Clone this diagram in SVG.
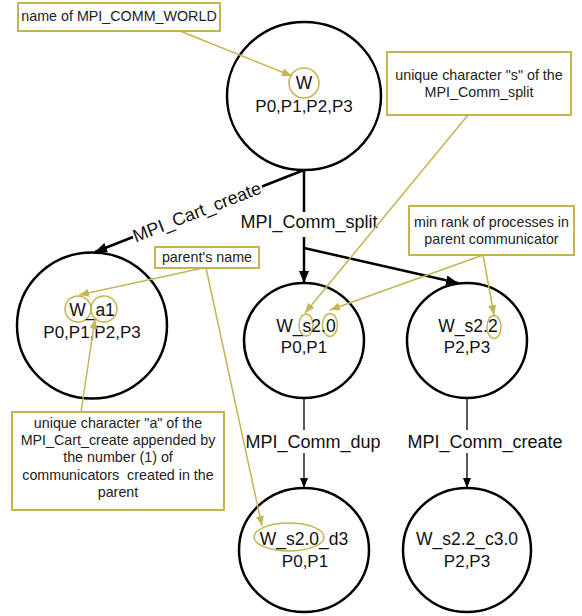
<svg xmlns="http://www.w3.org/2000/svg" width="582" height="616" viewBox="0 0 582 616">
<style>
.node{fill:#fff;stroke:#000;stroke-width:2.5}
.nt{font-family:"Liberation Sans",Arial,sans-serif;font-size:17.5px;fill:#111;text-anchor:middle}
.pt{font-family:"Liberation Sans",Arial,sans-serif;font-size:17px;fill:#111;text-anchor:middle}
.lbl{font-family:"Liberation Sans",Arial,sans-serif;font-size:18px;fill:#111;text-anchor:middle}
.at{font-family:"Liberation Sans",Arial,sans-serif;font-size:14.3px;fill:#222;text-anchor:middle}
.box{fill:#fff;stroke:#c4b552;stroke-width:2}
.hl{fill:none;stroke:#c4b552;stroke-width:1.5}
.ol{fill:none;stroke:#c4b552;stroke-width:1.5}
.thick{fill:none;stroke:#000;stroke-width:2.5}
.thin{fill:none;stroke:#000;stroke-width:1.3}
</style>
<defs>
<marker id="ab" viewBox="0 0 12 10" refX="12" refY="5" markerWidth="12" markerHeight="10" orient="auto" markerUnits="userSpaceOnUse"><path d="M0,0 L12,5 L0,10 z" fill="#000"/></marker>
<marker id="as" viewBox="0 0 10 8" refX="10" refY="4" markerWidth="10" markerHeight="8" orient="auto" markerUnits="userSpaceOnUse"><path d="M0,0 L10,4 L0,8 z" fill="#000"/></marker>
<marker id="ao" viewBox="0 0 10 8" refX="10" refY="4" markerWidth="10" markerHeight="8" orient="auto" markerUnits="userSpaceOnUse"><path d="M0,0 L10,4 L0,8 z" fill="#c4b552"/></marker>
</defs>
<rect width="582" height="616" fill="#fff"/>

<g id="connectors">
  <line class="thick" x1="304" y1="170" x2="262" y2="186.5"/>
  <line class="thick" x1="133" y1="237" x2="95" y2="252" marker-end="url(#ab)"/>
  <text class="lbl" transform="translate(197,212) rotate(-21.4)" x="0" y="6">MPI_Cart_create</text>
  <line class="thick" x1="304" y1="170" x2="304" y2="212"/>
  <text class="lbl" x="309" y="228">MPI_Comm_split</text>
  <line class="thick" x1="304" y1="237" x2="304" y2="283" marker-end="url(#ab)"/>
  <line class="thick" x1="304" y1="248" x2="458" y2="283" marker-end="url(#ab)"/>
  <line class="thin" x1="304" y1="398" x2="304" y2="430"/>
  <text class="lbl" x="313" y="448">MPI_Comm_dup</text>
  <line class="thin" x1="304" y1="453" x2="304" y2="488" marker-end="url(#as)"/>
  <line class="thin" x1="467" y1="398" x2="467" y2="430"/>
  <text class="lbl" x="485" y="448">MPI_Comm_create</text>
  <line class="thin" x1="467" y1="453" x2="467" y2="488" marker-end="url(#as)"/>
</g>

<g id="node-W">
  <ellipse class="node" cx="304" cy="96" rx="77" ry="74"/>
  <circle class="hl" cx="304" cy="83" r="15"/>
  <text class="nt" x="304" y="89">W</text>
  <text class="pt" x="304" y="112">P0,P1,P2,P3</text>
</g>
<g id="node-W_a1">
  <ellipse class="node" cx="92" cy="325.5" rx="75" ry="73"/>
  <circle class="hl" cx="78" cy="309" r="13"/>
  <circle class="hl" cx="104" cy="309" r="13"/>
  <text class="nt" x="92" y="316">W_a1</text>
  <text class="pt" x="92" y="338">P0,P1,P2,P3</text>
</g>
<g id="node-W_s2.0">
  <ellipse class="node" cx="304" cy="340.5" rx="60" ry="57.5"/>
  <ellipse class="hl" cx="306" cy="325" rx="7" ry="11"/>
  <ellipse class="hl" cx="330" cy="325" rx="7.5" ry="11.5"/>
  <text class="nt" x="306" y="332">W_s2.0</text>
  <text class="pt" x="304" y="353">P0,P1</text>
</g>
<g id="node-W_s2.2">
  <ellipse class="node" cx="467" cy="340.5" rx="60" ry="57.5"/>
  <ellipse class="hl" cx="494" cy="327" rx="7" ry="11.5"/>
  <text class="nt" x="468" y="332">W_s2.2</text>
  <text class="pt" x="467" y="353">P2,P3</text>
</g>
<g id="node-W_s2.0_d3">
  <ellipse class="node" cx="304" cy="550" rx="65" ry="62"/>
  <ellipse class="hl" cx="289" cy="537" rx="35" ry="14"/>
  <text class="nt" x="304" y="545">W_s2.0_d3</text>
  <text class="pt" x="305" y="567">P0,P1</text>
</g>
<g id="node-W_s2.2_c3.0">
  <ellipse class="node" cx="467" cy="550" rx="64" ry="62"/>
  <text class="nt" x="467" y="545">W_s2.2_c3.0</text>
  <text class="pt" x="467" y="567">P2,P3</text>
</g>

<g id="annotation-world">
  <rect class="box" x="18" y="3" width="202" height="28"/>
  <text class="at" x="119" y="21">name of MPI_COMM_WORLD</text>
  <line class="ol" x1="180" y1="31" x2="292" y2="76" marker-end="url(#ao)"/>
</g>
<g id="annotation-s">
  <rect class="box" x="387" y="52" width="184" height="63"/>
  <text class="at" x="479" y="80">unique character "s" of the</text>
  <text class="at" x="479" y="97">MPI_Comm_split</text>
  <line class="ol" x1="468" y1="115" x2="305" y2="313" marker-end="url(#ao)"/>
</g>
<g id="annotation-minrank">
  <rect class="box" x="409" y="206" width="165" height="49"/>
  <text class="at" x="491.5" y="227">min rank of processes in</text>
  <text class="at" x="491.5" y="244">parent communicator</text>
  <line class="ol" x1="483" y1="255" x2="330" y2="310" marker-end="url(#ao)"/>
  <line class="ol" x1="483" y1="255" x2="494" y2="315" marker-end="url(#ao)"/>
</g>
<g id="annotation-parent">
  <rect class="box" x="155" y="247" width="104" height="21"/>
  <text class="at" x="207" y="262">parent's name</text>
  <line class="ol" x1="203" y1="268" x2="79" y2="295" marker-end="url(#ao)"/>
  <line class="ol" x1="206" y1="268" x2="262" y2="526" marker-end="url(#ao)"/>
</g>
<g id="annotation-a">
  <rect class="box" x="12" y="412" width="212" height="98"/>
  <text class="at" x="118" y="428">unique character "a" of the</text>
  <text class="at" x="118" y="445">MPI_Cart_create appended by</text>
  <text class="at" x="118" y="462">the number (1) of</text>
  <text class="at" x="118" y="480" xml:space="preserve">communicators  created in the</text>
  <text class="at" x="118" y="497">parent</text>
  <line class="ol" x1="81" y1="412" x2="95" y2="319" marker-end="url(#ao)"/>
</g>
</svg>
